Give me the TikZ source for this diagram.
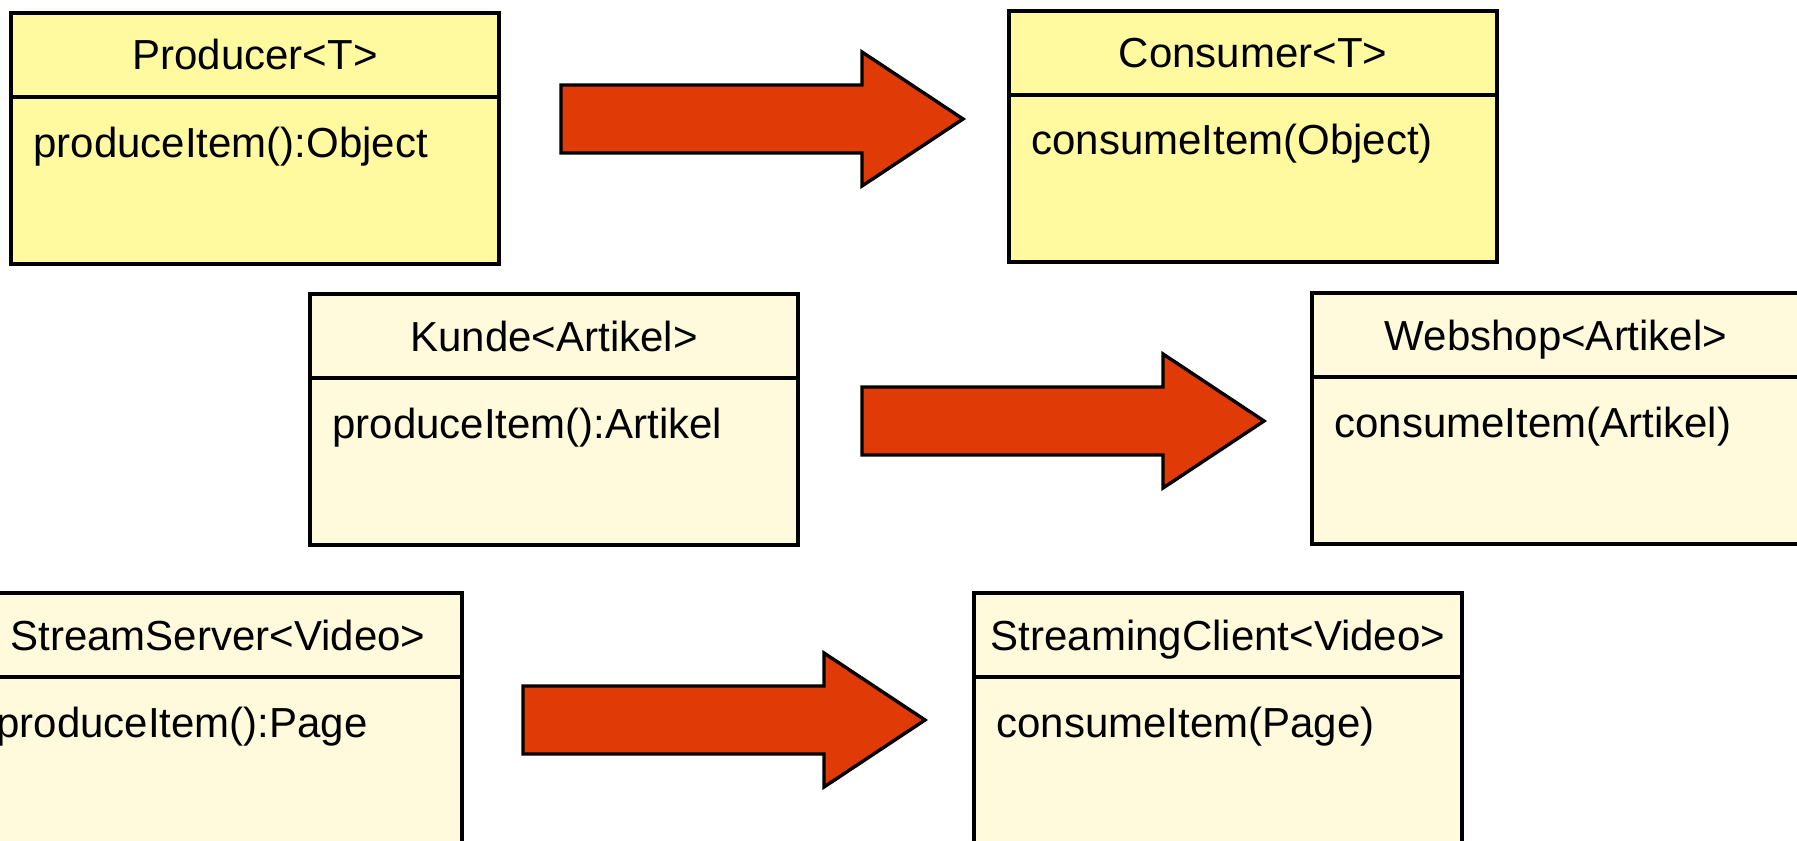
\documentclass[tikz,border=0pt]{standalone}
\usepackage{fontspec}
\setmainfont{Liberation Sans}
\usetikzlibrary{positioning,calc}
\definecolor{genyellow}{RGB}{255,250,160}
\definecolor{usecream}{RGB}{255,250,220}
\definecolor{arrowred}{RGB}{224,58,6}
\tikzstyle{classhead} = [draw, rectangle, line width=1.7pt, outer sep=0pt, minimum width=244pt, minimum height=42pt, text height=15pt, text depth=0pt, font=\fontsize{21}{25}\selectfont]
\tikzstyle{classbody} = [draw, rectangle, line width=1.7pt, outer sep=0pt, minimum width=244pt, minimum height=83.5pt]
\tikzstyle{op} = [anchor=base west, inner sep=0pt, xshift=11pt, yshift=-30pt, font=\fontsize{21}{25}\selectfont]
\tikzstyle{bigarrow} = [draw, fill=arrowred, line width=1.7pt, line join=miter,
  to path={($(\tikztostart)+(0,-34)$) -- ($(\tikztotarget)+(-101,-34)$) -- ($(\tikztotarget)+(-101,-67)$) -- (\tikztotarget) -- ($(\tikztotarget)+(-101,67)$) -- ($(\tikztotarget)+(-101,34)$) -- ($(\tikztostart)+(0,34)$) -- cycle}]

\begin{document}
\begin{tikzpicture}[x=0.5pt, y=-0.5pt]

\useasboundingbox (0,0) rectangle (1797,840);
\clip (0,0) rectangle (1797,840);

% generic pair
\node [classhead, fill=genyellow] (prodhead) at (255,55) {Producer<T>};
\node [classbody, fill=genyellow, below=0pt of prodhead] (prodbody) {};
\node [op] (prodop) at (prodbody.north west) {produceItem():Object};

\node [classhead, fill=genyellow] (conshead) at (1253,53) {Consumer<T>};
\node [classbody, fill=genyellow, below=0pt of conshead] (consbody) {};
\node [op] (consop) at (consbody.north west) {consumeItem(Object)};

% webshop pair
\node [classhead, fill=usecream] (kundehead) at (554,336) {Kunde<Artikel>};
\node [classbody, fill=usecream, below=0pt of kundehead] (kundebody) {};
\node [op] (kundeop) at (kundebody.north west) {produceItem():Artikel};

\node [classhead, fill=usecream] (shophead) at (1556,335) {Webshop<Artikel>};
\node [classbody, fill=usecream, below=0pt of shophead] (shopbody) {};
\node [op] (shopop) at (shopbody.north west) {consumeItem(Artikel)};

% streaming pair
\node [classhead, fill=usecream] (serverhead) at (218,635) {StreamServer<Video>};
\node [classbody, fill=usecream, below=0pt of serverhead] (serverbody) {};
\node [op] (serverop) at (serverbody.north west) {produceItem():Page};

\node [classhead, fill=usecream] (clienthead) at (1218,635) {StreamingClient<Video>};
\node [classbody, fill=usecream, below=0pt of clienthead] (clientbody) {};
\node [op] (clientop) at (clientbody.north west) {consumeItem(Page)};

\coordinate (genstart) at (561,119);
\coordinate (genend) at (963,119);
\coordinate (shopstart) at (862,421);
\coordinate (shopend) at (1264,421);
\coordinate (streamstart) at (523,720);
\coordinate (streamend) at (925,720);

\draw [bigarrow] (genstart) to (genend);
\draw [bigarrow] (shopstart) to (shopend);
\draw [bigarrow] (streamstart) to (streamend);

\end{tikzpicture}
\end{document}
